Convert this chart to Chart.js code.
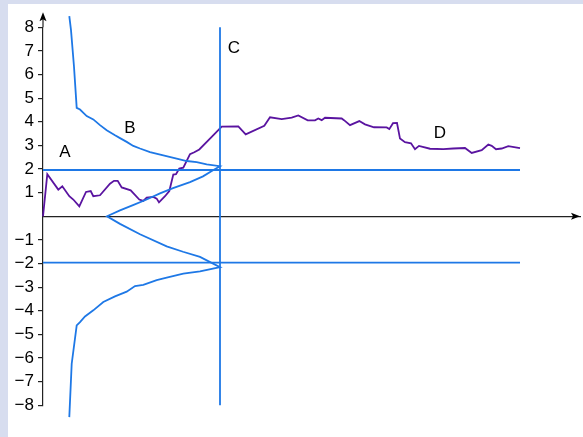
<!DOCTYPE html>
<html>
<head>
<meta charset="utf-8">
<script src="https://cdn.jsdelivr.net/npm/chart.js@4"></script>
<style>
    html, body { margin: 0; padding: 0; }
    body { width: 583px; height: 437px; background: #d7ddef; position: relative; overflow: hidden; }
    #wrap { position: absolute; left: 8px; top: 4px; width: 575px; height: 433px; background: #ffffff; }
</style>
</head>
<body>
<div id="wrap"><canvas id="chart" width="575" height="433"></canvas></div>
<script>
    // Colors
    const BLUE = '#1e78e6';
    const PURPLE = '#5a14a0';
    const AXIS = '#222222';

    // Y-axis ticks (0 is not labelled)
    const yTicks = [8, 7, 6, 5, 4, 3, 2, 1, -1, -2, -3, -4, -5, -6, -7, -8];

    // Observed path (purple)
    const pathX = [0, 4.3, 15.3, 19.3, 26.3, 30.3, 36.3, 43, 47.7, 50.3, 57, 67, 71, 74.7, 78.7, 87.7,
        96.3, 100.3, 103.7, 110.3, 113.7, 116, 122, 126.3, 130.3, 133, 136.3, 140.3, 147, 151.3, 156.3,
        168.7, 178.7, 195.3, 202.7, 221.3, 227, 238.7, 248.7, 255.3, 264.7, 272, 275.3, 278.7, 282,
        298.7, 301, 307, 316.3, 322, 331, 343.7, 346.3, 350, 354, 357, 362, 368, 372, 376, 387,
        400.3, 410.3, 422, 428.7, 438.7, 445.3, 448.7, 453, 458.7, 465.3, 477];
    const pathY = [0, 1.78, 1.13, 1.27, 0.85, 0.71, 0.42, 1.03, 1.07, 0.85, 0.89, 1.38, 1.5, 1.5, 1.22, 1.1,
        0.71, 0.65, 0.79, 0.82, 0.75, 0.59, 0.85, 1.07, 1.77, 1.78, 2.02, 2.06, 2.63, 2.71, 2.83,
        3.36, 3.8, 3.81, 3.47, 3.83, 4.19, 4.11, 4.18, 4.27, 4.06, 4.06, 4.14, 4.07, 4.17,
        4.14, 4.07, 3.86, 4.03, 3.89, 3.77, 3.76, 3.69, 3.94, 3.95, 3.29, 3.14, 3.09, 2.84, 2.98, 2.86,
        2.84, 2.87, 2.89, 2.68, 2.8, 3.04, 2.98, 2.84, 2.87, 2.97, 2.89];

    // Upper boundary (outer curve, top to C)
    const upperOuterX = [26.3, 28, 31, 33.7, 37, 43.7, 50.3, 57, 63.7, 72, 77, 83.7, 90.3, 97, 107, 120.3, 133.7, 143.7, 153.7, 163.7, 177];
    const upperOuterY = [8.47, 7.88, 6.33, 4.59, 4.52, 4.24, 4.1, 3.86, 3.64, 3.43, 3.31, 3.15, 2.98, 2.87, 2.72, 2.58, 2.44, 2.34, 2.29, 2.2, 2.12];

    // Inner wedge (C back to the apex and out again)
    const innerX = [177, 170, 160, 147, 130, 117, 103, 90, 77, 64, 77, 97, 123.7, 140, 157, 177];
    const innerY = [2.12, 1.95, 1.69, 1.45, 1.19, 0.97, 0.7, 0.47, 0.25, 0, -0.32, -0.76, -1.27, -1.5, -1.72, -2.15];

    // Lower boundary (outer curve, C to bottom)
    const lowerOuterX = [177, 157, 140.3, 123.7, 113.7, 100.3, 92, 83.7, 72, 60.3, 50.3, 42, 37, 33.7, 28.7, 26.3];
    const lowerOuterY = [-2.15, -2.33, -2.43, -2.6, -2.7, -2.9, -2.95, -3.19, -3.39, -3.63, -3.98, -4.24, -4.48, -4.62, -6.24, -8.5];

    // Reference lines
    const bandLevel = 1.96;
    const bandEnd = 477;
    const lineC = 177;

    // Text labels placed on the data
    const labelText = ['A', 'B', 'C', 'D'];
    const labelX = [22, 87, 191, 397];
    const labelY = [2.71, 3.73, 7.12, 3.52];

    function toPoints(xs, ys) {
        return xs.map((x, i) => ({ x: x, y: ys[i] }));
    }

    function lineSet(data, color) {
        return {
            data: data,
            borderColor: color,
            borderWidth: 1.8,
            pointRadius: 0,
            tension: 0,
            fill: false,
            clip: false
        };
    }

    const boundary = toPoints(upperOuterX, upperOuterY)
        .concat(toPoints(innerX, innerY).slice(1))
        .concat(toPoints(lowerOuterX, lowerOuterY).slice(1));

    const datasets = [
        lineSet([{ x: 0, y: bandLevel }, { x: bandEnd, y: bandLevel }], BLUE),
        lineSet([{ x: 0, y: -bandLevel }, { x: bandEnd, y: -bandLevel }], BLUE),
        lineSet([{ x: lineC, y: 8 }, { x: lineC, y: -8 }], BLUE),
        lineSet(boundary, BLUE),
        lineSet(toPoints(pathX, pathY), PURPLE)
    ];

    // Arrow heads + letter labels
    const extras = {
        id: 'extras',
        afterDraw(chart) {
            const ctx = chart.ctx;
            const xs = chart.scales.x;
            const ys = chart.scales.y;
            const x0 = xs.getPixelForValue(0);
            const y0 = ys.getPixelForValue(0);
            const yTop = ys.getPixelForValue(8);
            const tipY = yTop - 15;
            const tipX = xs.getPixelForValue(537);

            ctx.save();
            ctx.strokeStyle = AXIS;
            ctx.fillStyle = '#000';
            ctx.lineWidth = 1.2;
            ctx.beginPath();
            ctx.moveTo(x0, yTop);
            ctx.lineTo(x0, tipY + 4);
            ctx.stroke();

            ctx.beginPath();
            ctx.moveTo(x0, tipY);
            ctx.lineTo(x0 - 3.5, tipY + 9);
            ctx.lineTo(x0, tipY + 7);
            ctx.lineTo(x0 + 3.5, tipY + 9);
            ctx.closePath();
            ctx.fill();

            ctx.beginPath();
            ctx.moveTo(tipX, y0);
            ctx.lineTo(tipX - 9, y0 - 3.5);
            ctx.lineTo(tipX - 7, y0);
            ctx.lineTo(tipX - 9, y0 + 3.5);
            ctx.closePath();
            ctx.fill();

            ctx.font = "17px 'Liberation Sans', Arial, sans-serif";
            ctx.textAlign = 'center';
            ctx.textBaseline = 'middle';
            labelText.forEach((t, i) => {
                ctx.fillText(t, xs.getPixelForValue(labelX[i]), ys.getPixelForValue(labelY[i]));
            });
            ctx.restore();
        }
    };

    const ctx = document.getElementById('chart').getContext('2d');
    new Chart(ctx, {
        type: 'line',
        data: { datasets: datasets },
        options: {
            responsive: false,
            animation: false,
            events: [],
            layout: {
                padding: { top: 23.3, bottom: 31.7, left: 0, right: 3 }
            },
            plugins: {
                legend: { display: false },
                tooltip: { enabled: false }
            },
            scales: {
                x: {
                    type: 'linear',
                    min: 0,
                    max: 537,
                    position: { y: 0 },
                    ticks: { display: false },
                    grid: { display: false },
                    border: { display: true, color: AXIS, width: 1.2 }
                },
                y: {
                    type: 'linear',
                    min: -8,
                    max: 8,
                    position: 'left',
                    afterFit(scale) { scale.width = 35; },
                    afterBuildTicks(scale) {
                        scale.ticks = yTicks.map(v => ({ value: v }));
                    },
                    ticks: {
                        color: '#000',
                        padding: 4,
                        autoSkip: false,
                        font: { family: "'Liberation Sans', Arial, sans-serif", size: 17 },
                        callback: v => (v < 0 ? '\u2212' + Math.abs(v) : String(v))
                    },
                    grid: {
                        drawOnChartArea: false,
                        drawTicks: true,
                        tickLength: 5,
                        color: AXIS,
                        lineWidth: 1.2
                    },
                    border: { display: true, color: AXIS, width: 1.2 }
                }
            }
        },
        plugins: [extras]
    });
</script>
</body>
</html>
